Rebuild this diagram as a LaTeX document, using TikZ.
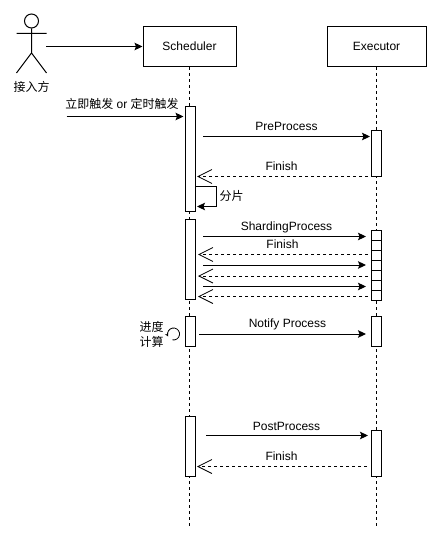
\documentclass[tikz,border=0pt]{standalone}
\usepackage{fontspec}
\setmainfont{Liberation Sans}
\newfontfamily\cjk{Noto Sans CJK SC}
\usetikzlibrary{arrows.meta}
\tikzset{
  every node/.style={font=\fontsize{12}{14}\selectfont},
  head/.style={draw,fill=white,minimum height=40pt,inner sep=0pt,line width=1pt},
  act/.style={draw,fill=white,minimum width=10pt,inner sep=0pt,line width=1pt},
  life/.style={line width=1pt,dash pattern=on 3pt off 3pt},
  msg/.style={line width=1pt,-{Stealth[length=8pt,width=7.5pt,inset=1.5pt]}},
  ret/.style={line width=1pt,dash pattern=on 3pt off 3pt,-{Straight Barb[length=14pt,width=14pt,line width=.8pt]}},
  lbl/.style={inner sep=0pt},
  cell/.style={act,minimum height=10pt}
}
\begin{document}
\begin{tikzpicture}[x=1pt,y=-1pt]
\useasboundingbox (0,0) rectangle (444,548);
\fill[white] (0,0) rectangle (444,548);
% lifelines
\node[head,minimum width=93pt] (sch) at (189.5,46.5) {Scheduler};
\node[head,minimum width=99pt] (exe) at (376.5,46.5) {Executor};
\coordinate (schend) at (189.5,526);
\coordinate (exeend) at (376.5,526);
\draw[life] (sch.south) -- (schend);
\draw[life] (exe.south) -- (exeend);
% actor
\node[draw,circle,minimum size=14pt,inner sep=0pt,line width=1pt] (head1) at (31.5,21) {};
\coordinate (hip) at (31.5,53);
\coordinate (armL) at (16.5,33.5);
\coordinate (armR) at (46.5,33.5);
\coordinate (legL) at (16.5,73);
\coordinate (legR) at (46.5,73);
\draw[line width=1pt] (head1.south) -- (hip) (armL) -- (armR) (legL) -- (hip) -- (legR);
\node[lbl,font=\fontsize{12}{14}\selectfont\cjk] (actorlabel) at (31.5,86.5) {接入方};
% scheduler activations
\node[act,minimum height=105pt] (s1) at (190,159) {};
\node[act,minimum height=80pt] (s2) at (190,259.5) {};
\node[act,minimum height=30pt] (s3) at (190,331.5) {};
\node[act,minimum height=60pt] (s4) at (190,446.5) {};
% executor activations
\node[act,minimum height=46pt] (e1) at (376.5,153.5) {};
\foreach \i/\y in {1/235.5,2/245.5,3/255.5,4/265.5,5/275.5,6/285.5,7/295.5}
  \node[cell] (c\i) at (376.5,\y) {};
\node[act,minimum height=30pt] (e3) at (376.5,331.5) {};
\node[act,minimum height=46pt] (e4) at (376.5,453.5) {};
% actor -> scheduler
\coordinate (a0) at (46,46.5);
\draw[msg] (a0) -- (sch.west |- a0);
\coordinate (t0) at (66.5,116.5);
\draw[msg] (t0) -- (183.5,116.5) coordinate (t1);
\node[lbl] (trig) at (122,103.5) {{\cjk 立即触发} or {\cjk 定时触发}};
% PreProcess
\coordinate (p0) at (203,136.5);
\coordinate (p1) at (370,136.5);
\draw[msg] (p0) -- (p1);
\node[lbl] (plbl) at (286.5,126.5) {PreProcess};
\coordinate (f0) at (368,176.5);
\coordinate (f1) at (197,176.5);
\draw[ret] (f0) -- (f1);
\node[lbl] (flbl) at (281.5,166) {Finish};
% self
\coordinate (q0) at (196,186.5);
\coordinate (q1) at (216.5,186.5);
\coordinate (q2) at (216.5,206.5);
\coordinate (q3) at (197,206.5);
\draw[line width=1pt,-{Stealth[length=8pt,width=7.5pt,inset=1.5pt]}] (q0) -- (q1) -- (q2) -- (q3);
\node[lbl,font=\fontsize{12}{14}\selectfont\cjk] (qlbl) at (231.5,195.5) {分片};
% Sharding
\coordinate (g0) at (203,236.5);
\coordinate (g1) at (366,236.5);
\draw[msg] (g0) -- (g1);
\node[lbl] (glbl) at (286.5,227) {ShardingProcess};
\coordinate (h0) at (368,254.5);
\coordinate (h1) at (198,254.5);
\draw[ret] (h0) -- (h1);
\node[lbl] (hlbl) at (282.5,244) {Finish};
\coordinate (i0) at (203,265);
\coordinate (i1) at (366,265);
\draw[msg] (i0) -- (i1);
\coordinate (j0) at (368,276);
\coordinate (j1) at (198,276);
\draw[ret] (j0) -- (j1);
\coordinate (k0) at (203,286.5);
\coordinate (k1) at (366,286.5);
\draw[msg] (k0) -- (k1);
\coordinate (l0) at (368,296.5);
\coordinate (l1) at (198,296.5);
\draw[ret] (l0) -- (l1);
% Notify
\coordinate (n0) at (199,334);
\coordinate (n1) at (366,334);
\draw[msg] (n0) -- (n1);
\node[lbl] (nlbl) at (287.5,324) {Notify Process};
\node[lbl,align=center,font=\fontsize{12}{15}\selectfont\cjk] (calc) at (151.5,334) {进度\\计算};
\draw[line width=.8pt,-{Stealth[length=3.5pt,width=3.5pt]}] (172.5,339.9) arc[start angle=-100,end angle=205,radius=6pt];
% Post
\coordinate (o0) at (206,435.5);
\coordinate (o1) at (368,435.5);
\draw[msg] (o0) -- (o1);
\node[lbl] (olbl) at (286.5,426) {PostProcess};
\coordinate (r0) at (367,466.5);
\coordinate (r1) at (197,466.5);
\draw[ret] (r0) -- (r1);
\node[lbl] (rlbl) at (281.5,456) {Finish};
\end{tikzpicture}
\end{document}
